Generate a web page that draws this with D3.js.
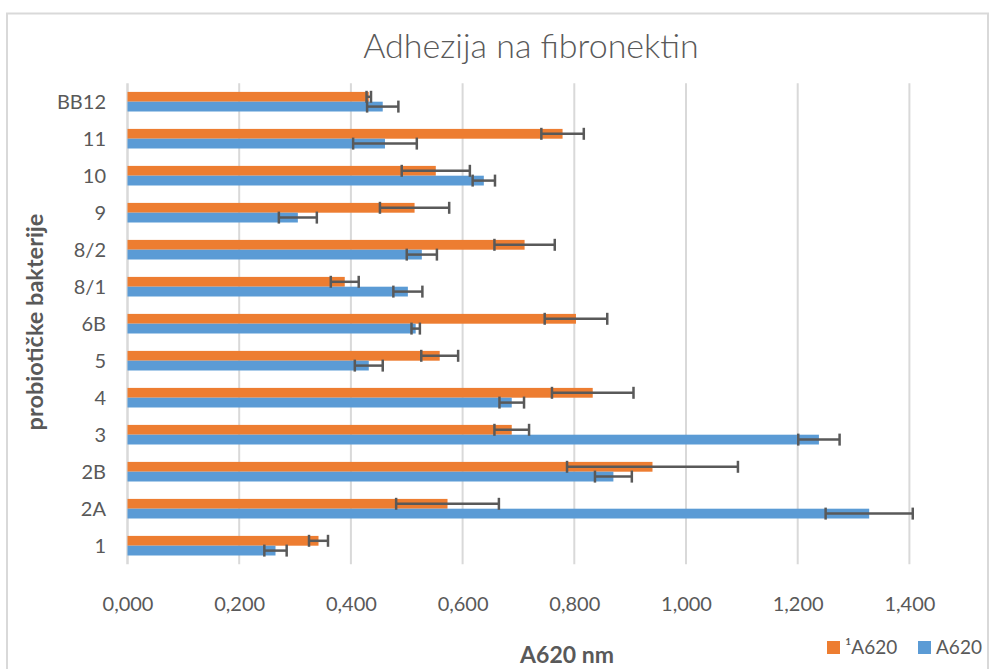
<!DOCTYPE html>
<html>
<head>
<meta charset="utf-8">
<script src="https://cdn.jsdelivr.net/npm/d3@7"></script>
<style>
  html, body { margin: 0; padding: 0; background: #fff; }
  svg { display: block; }
</style>
</head>
<body>
<svg id="chart" width="995" height="669"></svg>
<script>
// ---- data ----
const categories = ["1", "2A", "2B", "3", "4", "5", "6B", "8/1", "8/2", "9", "10", "11", "BB12"];
const seriesNames = ["\u00B9A620", "A620"];
const orangeValues = [0.342, 0.573, 0.940, 0.688, 0.833, 0.559, 0.803, 0.389, 0.711, 0.514, 0.552, 0.779, 0.432];
const orangeErrors = [0.017, 0.092, 0.153, 0.031, 0.073, 0.033, 0.056, 0.025, 0.054, 0.062, 0.061, 0.038, 0.004];
const blueValues   = [0.265, 1.328, 0.870, 1.238, 0.688, 0.432, 0.516, 0.502, 0.527, 0.305, 0.638, 0.461, 0.457];
const blueErrors   = [0.020, 0.078, 0.033, 0.037, 0.022, 0.025, 0.0075, 0.026, 0.027, 0.034, 0.020, 0.057, 0.028];
const xTicks = [0, 0.2, 0.4, 0.6, 0.8, 1.0, 1.2, 1.4];
const titleText = "Adhezija na fibronektin";
const xTitle = "A620 nm";
const yTitle = "probioti\u010Dke bakterije";

// ---- layout ----
const svg = d3.select("#chart");
const plot = { left: 127.5, right: 909.4, top: 83.2, bottom: 564.2 };
const font = "Lato, 'Open Sans', sans-serif";
const textColor = "#595959";
const colors = { orange: "#ED7D31", blue: "#5B9BD5" };

// chart border
svg.append("rect")
  .attr("x", 7).attr("y", 13.5)
  .attr("width", 981).attr("height", 660)
  .attr("fill", "none").attr("stroke", "#d9d9d9").attr("stroke-width", 2);

const x = d3.scaleLinear().domain([0, 1.4]).range([plot.left, plot.right]);
const y = d3.scaleBand().domain(categories.slice().reverse()).range([plot.top, plot.bottom]);
const inner = d3.scaleBand().domain(["o", "b"]).range([0, 19.6]);
const groupOffset = (y.bandwidth() - 19.6) / 2;

const locale = d3.formatLocale({ decimal: ",", thousands: ".", grouping: [3], currency: ["", ""] });
const fmt = locale.format(".3f");

// gridlines
svg.append("g")
  .selectAll("line")
  .data(xTicks)
  .join("line")
  .attr("x1", d => x(d)).attr("x2", d => x(d))
  .attr("y1", plot.top).attr("y2", plot.bottom)
  .attr("stroke", "#d9d9d9")
  .attr("stroke-width", d => d === 0 ? 2.5 : 2);

// x tick labels
const xAxis = d3.axisBottom(x).tickValues(xTicks).tickFormat(fmt).tickSize(0).tickPadding(0);
const xg = svg.append("g").attr("transform", `translate(0,${plot.bottom})`).call(xAxis);
xg.select(".domain").remove();
xg.selectAll("text")
  .attr("y", 47).attr("dy", 0)
  .attr("font-family", font).attr("font-size", 20).attr("fill", textColor);

// y tick labels
const yAxis = d3.axisLeft(y).tickSize(0).tickPadding(0);
const yg = svg.append("g").attr("transform", `translate(106,0)`).call(yAxis);
yg.select(".domain").remove();
yg.selectAll("text")
  .attr("x", 0).attr("dy", "0.35em")
  .attr("font-family", font).attr("font-size", 20).attr("fill", textColor);

// bars
const rows = categories.map((c, i) => ({
  cat: c,
  o: orangeValues[i], oe: orangeErrors[i],
  b: blueValues[i], be: blueErrors[i]
}));

const bars = svg.append("g");
rows.forEach(r => {
  const base = y(r.cat) + groupOffset;
  [["o", r.o, colors.orange], ["b", r.b, colors.blue]].forEach(([k, v, col]) => {
    bars.append("rect")
      .attr("x", x(0)).attr("y", base + inner(k))
      .attr("width", x(v) - x(0)).attr("height", inner.bandwidth())
      .attr("fill", col);
  });
});

// error bars (drawn on top)
const errs = svg.append("g").attr("stroke", "#595959").attr("stroke-width", 2.5).attr("fill", "none");
rows.forEach(r => {
  const base = y(r.cat) + groupOffset;
  [["o", r.o, r.oe], ["b", r.b, r.be]].forEach(([k, v, e]) => {
    const cy = base + inner(k) + inner.bandwidth() / 2;
    const x1 = x(v - e), x2 = x(v + e);
    errs.append("line").attr("x1", x1).attr("x2", x2).attr("y1", cy).attr("y2", cy);
    errs.append("line").attr("x1", x1).attr("x2", x1).attr("y1", cy - 6).attr("y2", cy + 6);
    errs.append("line").attr("x1", x2).attr("x2", x2).attr("y1", cy - 6).attr("y2", cy + 6);
  });
});

// title
svg.append("text")
  .attr("x", 531).attr("y", 58)
  .attr("text-anchor", "middle")
  .attr("font-family", font).attr("font-weight", 300).attr("font-size", 34)
  .attr("fill", textColor)
  .text(titleText);

// axis titles
svg.append("text")
  .attr("x", 567).attr("y", 663)
  .attr("text-anchor", "middle")
  .attr("font-family", font).attr("font-weight", 700).attr("font-size", 23)
  .attr("fill", textColor)
  .text(xTitle);

svg.append("text")
  .attr("transform", "translate(43,322) rotate(-90)")
  .attr("text-anchor", "middle")
  .attr("font-family", font).attr("font-weight", 700).attr("font-size", 23.5)
  .attr("fill", textColor)
  .text(yTitle);

// legend
const legendItems = [
  { name: seriesNames[0], color: colors.orange, x: 827 },
  { name: seriesNames[1], color: colors.blue, x: 918 }
];
const lg = svg.append("g");
legendItems.forEach(it => {
  lg.append("rect").attr("x", it.x).attr("y", 641).attr("width", 13).attr("height", 13).attr("fill", it.color);
  lg.append("text")
    .attr("x", it.x + 18).attr("y", 654)
    .attr("font-family", font).attr("font-size", 19).attr("fill", textColor)
    .text(it.name);
});
</script>
</body>
</html>
